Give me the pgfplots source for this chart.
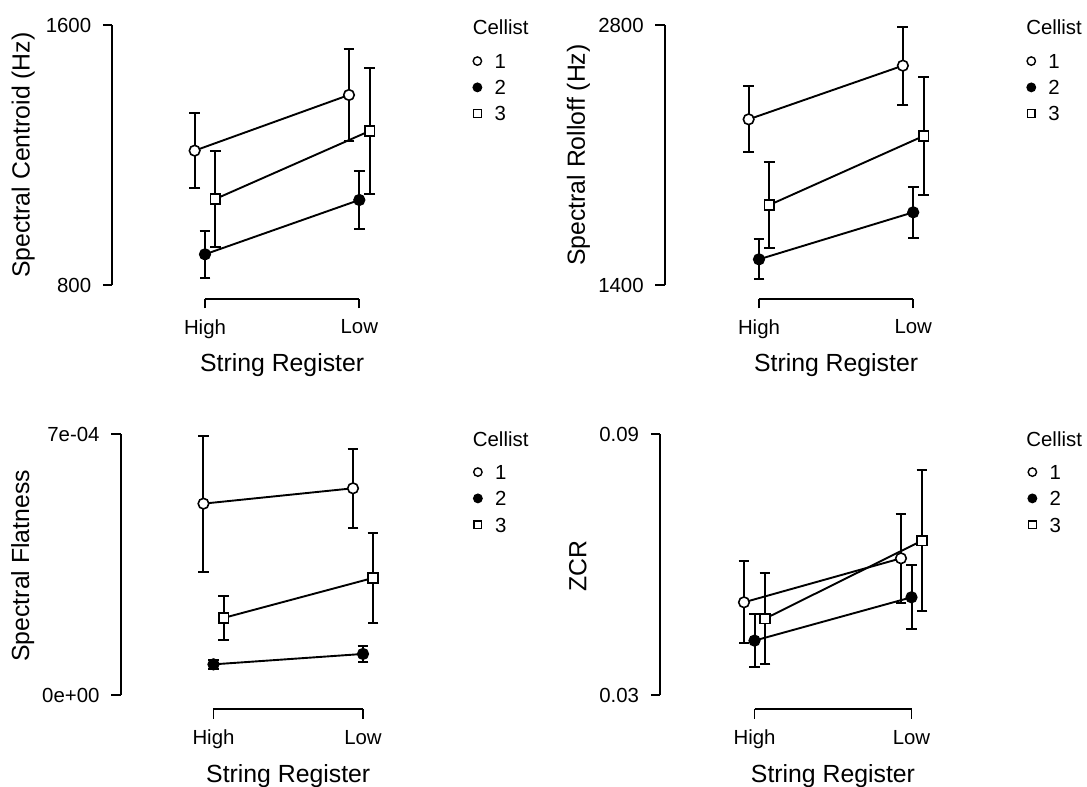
\documentclass[border=0pt]{standalone}
\usepackage{pgfplots}
\pgfplotsset{compat=1.18}
\usepackage{fontspec}
\setmainfont{Liberation Sans}
\newcommand{\tickfont}{\fontsize{10.2}{12}\selectfont}
\newcommand{\labfont}{\fontsize{12.4}{14}\selectfont}
\pgfplotsset{
  rplot/.style={
    scale only axis,
    clip=false,
    axis x line*=bottom,
    axis y line*=left,
    axis line style={draw=none},
    tick align=outside,
    major tick length=4.75pt,
    tick style={black, line width=0.95pt},
    xtick={1,2},
    xticklabels={High,Low},
    scaled y ticks=false,
    scaled x ticks=false,
    ticklabel style={font=\tickfont},
    xticklabel shift=2.1pt,
    yticklabel shift=2.35pt,
    label style={font=\labfont},
    xlabel={String Register},
    legend image code/.code={\draw[##1] plot coordinates {(0pt,0pt)};},
    legend style={draw=none, fill=none, inner sep=0pt, anchor=north west, font=\tickfont,
      row sep=5.85pt, column sep=6.5pt,
      nodes={inner sep=0pt, text height=7.3pt, text depth=0pt}},
    legend cell align=left,
  },
  eb/.style={
    error bars/y dir=both, error bars/y explicit,
    error bars/error bar style={line width=1pt, solid},
    error bars/error mark options={rotate=90, mark size=2.7pt, line width=1pt},
  },
  c1/.style={black, line width=0.95pt, forget plot, mark=*, mark size=2.65pt, mark options={fill=white, line width=0.8pt, solid}, eb},
  c2/.style={black, line width=0.95pt, forget plot, mark=*, mark size=2.65pt, mark options={fill=black, line width=0.8pt, solid}, eb},
  c3/.style={black, line width=0.95pt, forget plot, mark=square*, mark size=2.4pt, mark options={fill=white, line width=0.8pt, solid}, eb},
  l1/.style={black, mark=*, mark size=2.1pt, mark options={fill=white, line width=0.7pt}},
  l2/.style={black, mark=*, mark size=2.1pt, mark options={fill=black, line width=0.7pt}},
  l3/.style={black, mark=square*, mark size=1.95pt, mark options={fill=white, line width=0.7pt}},
}
\begin{document}
\begin{tikzpicture}
\useasboundingbox (0,0) rectangle (543.5pt,393.5pt);
% ---------------- Panel 1: Spectral Centroid
\begin{axis}[rplot, at={(56.2pt,244.1pt)}, anchor=south west,
  width=169.75pt, height=136.9pt,
  xmin=0.4, xmax=2.6, ymin=758.5, ymax=1600,
  ytick={800,1600}, yticklabels={800,1600},
  ylabel={Spectral Centroid (Hz)},
  ylabel style={at={(axis description cs:-0.2436,0.525)}, anchor=base},
  xlabel style={at={(axis description cs:0.5,-0.2663)}, anchor=base},
  legend style={at={(axis description cs:1.0615,0.8963)}}]
\draw[line width=0.95pt] (axis cs:0.4,800) -- (axis cs:0.4,1600);
\draw[line width=0.95pt] (axis cs:1,758.5) -- (axis cs:2,758.5);
\addplot[c1] coordinates {(0.933,1213.8) +- (0,114.7) (1.933,1384.9) +- (0,141.9)};
\addplot[c2] coordinates {(1,895.2) +- (0,71.7) (2,1062.2) +- (0,90)};
\addplot[c3] coordinates {(1.067,1065.2) +- (0,146) (2.067,1274.2) +- (0,193.1)};
\addlegendimage{l1}\addlegendentry{1}
\addlegendimage{l2}\addlegendentry{2}
\addlegendimage{l3}\addlegendentry{3}
\node[anchor=base west, font=\tickfont, inner sep=0pt] at (axis description cs:1.0607,0.9635) {Cellist};
\end{axis}
% ---------------- Panel 2: Spectral Rolloff
\begin{axis}[rplot, at={(332.45pt,244.1pt)}, anchor=south west,
  width=171.2pt, height=136.9pt,
  xmin=0.39, xmax=2.61, ymin=1327.4, ymax=2800,
  ytick={1400,2800}, yticklabels={1400,2800},
  ylabel={Spectral Rolloff (Hz)},
  ylabel style={at={(axis description cs:-0.2339,0.525)}, anchor=base},
  xlabel style={at={(axis description cs:0.5,-0.2663)}, anchor=base},
  legend style={at={(axis description cs:1.0566,0.8963)}}]
\draw[line width=0.95pt] (axis cs:0.39,1400) -- (axis cs:0.39,2800);
\draw[line width=0.95pt] (axis cs:1,1327.4) -- (axis cs:2,1327.4);
\addplot[c1] coordinates {(0.933,2292.7) +- (0,178.4) (1.933,2581.3) +- (0,209.8)};
\addplot[c2] coordinates {(1,1539.7) +- (0,106.7) (2,1792.5) +- (0,137)};
\addplot[c3] coordinates {(1.067,1831.9) +- (0,233) (2.067,2203) +- (0,317)};
\addlegendimage{l1}\addlegendentry{1}
\addlegendimage{l2}\addlegendentry{2}
\addlegendimage{l3}\addlegendentry{3}
\node[anchor=base west, font=\tickfont, inner sep=0pt] at (axis description cs:1.0543,0.9635) {Cellist};
\end{axis}
% ---------------- Panel 3: Spectral Flatness
\begin{axis}[rplot, at={(60.4pt,38.85pt)}, anchor=south west,
  width=167.45pt, height=137.5pt,
  xmin=0.38, xmax=2.62, ymin=-3.755e-5, ymax=7e-4,
  ytick={0,7e-4}, yticklabels={0e+00,7e-04},
  ylabel={Spectral Flatness},
  ylabel style={at={(axis description cs:-0.2735,0.5218)}, anchor=base},
  xlabel style={at={(axis description cs:0.5,-0.2651)}, anchor=base},
  legend style={at={(axis description cs:1.0525,0.8905)}}]
\draw[line width=0.95pt] (axis cs:0.38,0) -- (axis cs:0.38,7e-4);
\draw[line width=0.95pt] (axis cs:1,-3.755e-5) -- (axis cs:2,-3.755e-5);
\addplot[c1] coordinates {(0.933,5.14e-4) +- (0,1.82e-4) (1.933,5.552e-4) +- (0,1.06e-4)};
\addplot[c2] coordinates {(1,0.83e-4) +- (0,0.12e-4) (2,1.109e-4) +- (0,0.22e-4)};
\addplot[c3] coordinates {(1.067,2.074e-4) +- (0,0.58e-4) (2.067,3.147e-4) +- (0,1.216e-4)};
\addlegendimage{l1}\addlegendentry{1}
\addlegendimage{l2}\addlegendentry{2}
\addlegendimage{l3}\addlegendentry{3}
\node[anchor=base west, font=\tickfont, inner sep=0pt] at (axis description cs:1.0502,0.9549) {Cellist};
\end{axis}
% ---------------- Panel 4: ZCR
\begin{axis}[rplot, at={(330.15pt,38.85pt)}, anchor=south west,
  width=172.7pt, height=137.5pt,
  xmin=0.4, xmax=2.6, ymin=0.026782, ymax=0.09,
  ytick={0.03,0.09}, yticklabels={0.03,0.09},
  ylabel={ZCR},
  ylabel style={at={(axis description cs:-0.2142,0.5218)}, anchor=base},
  xlabel style={at={(axis description cs:0.5,-0.2651)}, anchor=base},
  legend style={at={(axis description cs:1.0639,0.8905)}}]
\draw[line width=0.95pt] (axis cs:0.4,0.03) -- (axis cs:0.4,0.09);
\draw[line width=0.95pt] (axis cs:1,0.026782) -- (axis cs:2,0.026782);
\addplot[c1] coordinates {(0.933,0.05138) +- (0,0.00947) (1.933,0.06149) +- (0,0.01027)};
\addplot[c2] coordinates {(1,0.04257) +- (0,0.00617) (2,0.05253) +- (0,0.00732)};
\addplot[c3] coordinates {(1.067,0.04762) +- (0,0.01039) (2.067,0.06556) +- (0,0.01624)};
\addlegendimage{l1}\addlegendentry{1}
\addlegendimage{l2}\addlegendentry{2}
\addlegendimage{l3}\addlegendentry{3}
\node[anchor=base west, font=\tickfont, inner sep=0pt] at (axis description cs:1.0588,0.9549) {Cellist};
\end{axis}
\end{tikzpicture}
\end{document}
